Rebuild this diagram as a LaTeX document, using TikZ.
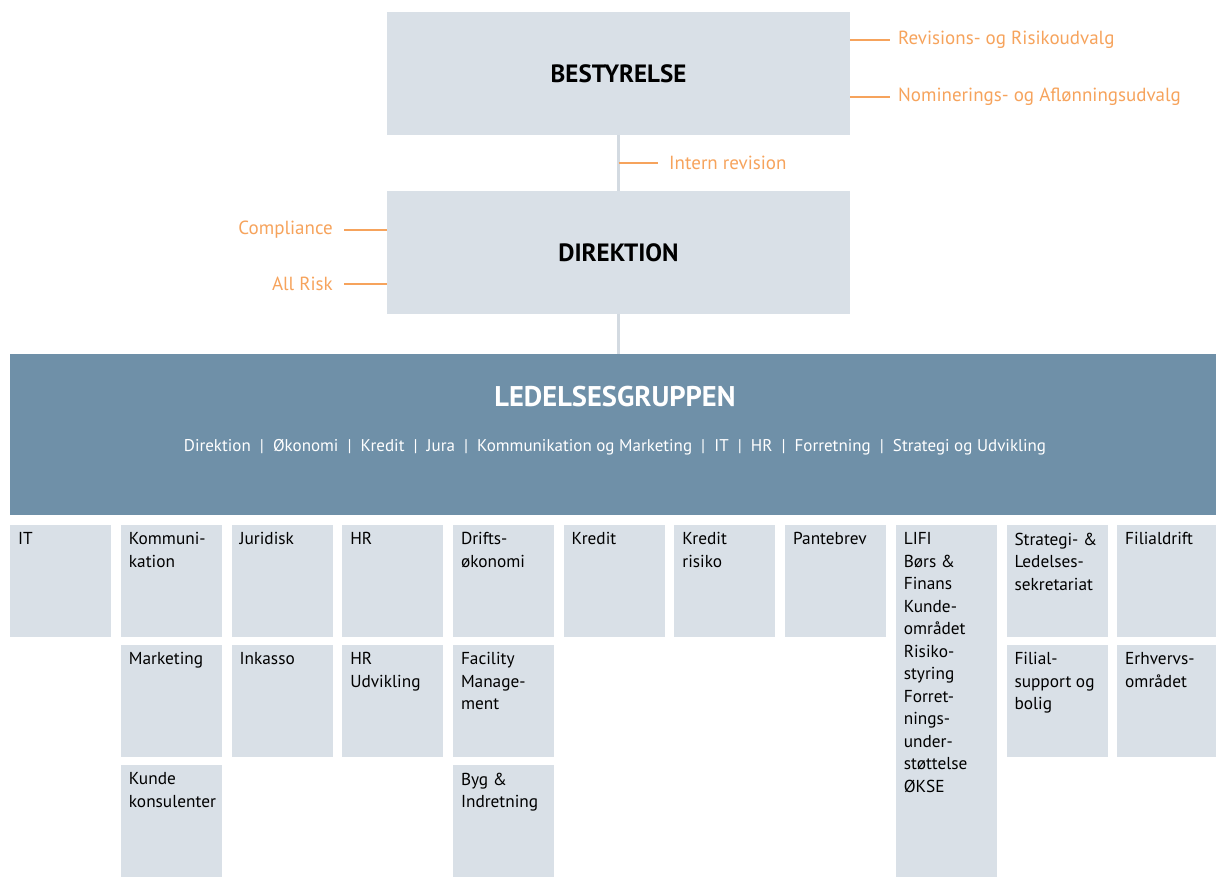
\documentclass[tikz,border=0pt]{standalone}
\usepackage{fontspec}
\setmainfont{PT Sans}
\definecolor{paleblue}{HTML}{D9E0E7}
\definecolor{steel}{HTML}{6F90A8}
\definecolor{orangelbl}{HTML}{F6A35C}
\definecolor{linkgrey}{HTML}{D3DAE1}
\newcommand{\unitfont}{\fontsize{17.3}{22.5}\selectfont}
\tikzset{
  unit/.style={fill=paleblue,minimum width=101pt,minimum height=112pt,anchor=north west,inner sep=0pt},
  utext/.style={anchor=north west,inner xsep=8pt,inner ysep=7.5pt,align=left,font=\unitfont},
  headbox/.style={fill=paleblue,minimum width=463pt,minimum height=123pt,font=\fontsize{25}{30}\selectfont\bfseries},
  side/.style={text=orangelbl,font=\fontsize{19}{23}\selectfont,inner ysep=0pt},
  sideline/.style={draw=orangelbl,line width=1.6pt},
  link/.style={draw=linkgrey,line width=2.5pt}
}
\begin{document}
\begin{tikzpicture}[x=1pt,y=-1pt]
\useasboundingbox (0,0) rectangle (1216,877);
% top of the chart
\node[headbox] (best) at (618.5,73.5) {BESTYRELSE};
\node[headbox] (dir) at (618.5,252.5) {DIREKTION};
\node[fill=steel,minimum width=1206pt,minimum height=161pt] (ledelse) at (613,434.5) {};
\node[text=white,font=\fontsize{28.5}{34}\selectfont\bfseries] (ledtitle) at (615,397) {LEDELSESGRUPPEN};
\node[text=white,font=\fontsize{17}{21}\selectfont] (ledsub) at (615,447)
  {Direktion \ | \ Økonomi \ | \ Kredit \ | \ Jura \ | \ Kommunikation og Marketing \ | \ IT \ | \ HR \ | \ Forretning \ | \ Strategi og Udvikling};
\draw[link] (best.south) -- (dir.north);
\draw[link] (dir.south) -- (dir.south |- ledelse.north);
% udvalg and staff functions
\node[side,anchor=west,inner xsep=8pt] (rev) at (890,40) {Revisions- og Risikoudvalg};
\node[side,anchor=west,inner xsep=8pt] (nom) at (890,97) {Nominerings- og Aflønningsudvalg};
\node[side,anchor=west,inner xsep=11pt] (intrev) at (658,163) {Intern revision};
\node[side,anchor=east,inner xsep=11pt] (comp) at (344,230) {Compliance};
\node[side,anchor=east,inner xsep=11pt] (allrisk) at (344,284) {All Risk};
\draw[sideline] (rev.west -| best.east) -- (rev.west);
\draw[sideline] (nom.west -| best.east) -- (nom.west);
\draw[sideline] (intrev.west -| best.south) -- (intrev.west);
\draw[sideline] (comp.east) -- (comp.east -| dir.west);
\draw[sideline] (allrisk.east) -- (allrisk.east -| dir.west);
% afdelinger, first row
\node[unit,label={[utext]north west:{IT}}] (it) at (10,525) {};
\node[unit,label={[utext]north west:{Kommuni-\\kation}}] (komm) at (120.7,525) {};
\node[unit,label={[utext]north west:{Juridisk}}] (jur) at (231.4,525) {};
\node[unit,label={[utext]north west:{HR}}] (hr) at (342.1,525) {};
\node[unit,label={[utext]north west:{Drifts-\\økonomi}}] (drift) at (452.8,525) {};
\node[unit,label={[utext]north west:{Kredit}}] (kredit) at (563.5,525) {};
\node[unit,label={[utext]north west:{Kredit\\risiko}}] (krisiko) at (674.2,525) {};
\node[unit,label={[utext]north west:{Pantebrev}}] (pant) at (784.9,525) {};
\node[unit,minimum height=352pt,label={[utext]north west:{LIFI\\Børs \&\\Finans\\Kunde-\\området\\Risiko-\\styring\\Forret-\\nings-\\under-\\støttelse\\ØKSE}}] (lifi) at (895.6,525) {};
\node[unit,label={[utext]north west:{Strategi- \&\\Ledelses-\\sekretariat}}] (strat) at (1006.3,525) {};
\node[unit,label={[utext]north west:{Filialdrift}}] (fdrift) at (1117,525) {};
% second row
\node[unit,label={[utext]north west:{Marketing}}] (mark) at (120.7,645) {};
\node[unit,label={[utext]north west:{Inkasso}}] (inkasso) at (231.4,645) {};
\node[unit,label={[utext]north west:{HR\\Udvikling}}] (hrudv) at (342.1,645) {};
\node[unit,label={[utext]north west:{Facility\\Manage-\\ment}}] (facil) at (452.8,645) {};
\node[unit,label={[utext]north west:{Filial-\\support og\\bolig}}] (fsupport) at (1006.3,645) {};
\node[unit,label={[utext]north west:{Erhvervs-\\området}}] (erhverv) at (1117,645) {};
% third row
\node[unit,label={[utext]north west:{Kunde\\konsulenter}}] (kunde) at (120.7,765) {};
\node[unit,label={[utext]north west:{Byg \&\\Indretning}}] (byg) at (452.8,765) {};
\end{tikzpicture}
\end{document}
